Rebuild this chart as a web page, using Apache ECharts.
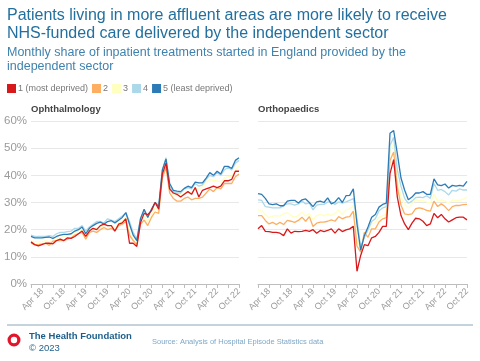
<!DOCTYPE html>
<html><head><meta charset="utf-8">
<script src="https://cdn.jsdelivr.net/npm/echarts@6/dist/echarts.min.js"></script>
<style>html,body{margin:0;padding:0;background:#fff}#c{width:480px;height:361px}</style>
</head><body><div id="c"></div>
<script>
const categories = ["Jan 18","Feb 18","Mar 18","Apr 18","May 18","Jun 18","Jul 18","Aug 18","Sep 18","Oct 18","Nov 18","Dec 18",
"Jan 19","Feb 19","Mar 19","Apr 19","May 19","Jun 19","Jul 19","Aug 19","Sep 19","Oct 19","Nov 19","Dec 19",
"Jan 20","Feb 20","Mar 20","Apr 20","May 20","Jun 20","Jul 20","Aug 20","Sep 20","Oct 20","Nov 20","Dec 20",
"Jan 21","Feb 21","Mar 21","Apr 21","May 21","Jun 21","Jul 21","Aug 21","Sep 21","Oct 21","Nov 21","Dec 21",
"Jan 22","Feb 22","Mar 22","Apr 22","May 22","Jun 22","Jul 22","Aug 22","Sep 22","Oct 22"];
const seriesNames = ["1 (most deprived)","2","3","4","5 (least deprived)"];
const seriesColors = ["#d7191c","#fdae61","#ffffbf","#abd9e9","#2c7bb6"];
const yTicks = [0,10,20,30,40,50,60];

// Ophthalmology
const oph1 = [15.5,14.5,14,14.5,15,15,14.8,16,16.5,16,17,16.8,17.5,18.5,19.5,17.5,19.5,20.5,20,21.5,22,21.5,21.5,19.5,22,22.5,24,15,15,13.8,22.5,26,25.5,27,30,27.5,40.5,44.5,35,33.5,33,32,33,34,33,35.5,32,34.5,35,35.5,36,35.5,36,38,38,38.5,41.5,41.5];
const oph2 = [15,14.5,14.5,14.8,15,14.2,15.8,16,16,16,16.5,17,18,18.5,19,16.5,19,19.5,19,20,20.8,20,20.5,19.5,21.5,22,23,18,16,14.5,22,23.5,21.5,24.5,26.5,26,39,43,33.5,31.5,30.5,30.5,31.5,32,31,31.5,31.5,32,33.5,35,34,35.5,35,37,37,37,39.5,40.5];
const oph3 = [16,15.5,15.5,15.5,16,15.5,16.5,17,17,17.5,18,18,19,19.5,20,17.5,20,20.5,20.5,21,21.5,21.5,21.5,20.5,22.5,23,24.5,19,16.5,15,23,25,23,25.5,28,27,40,44,34.5,33,32.5,33,33.5,34,33.5,35,35,36,37.5,38.5,38,38,37.5,39,39.5,39.5,42,43.5];
const oph4 = [18,17.5,17.5,17.5,17.5,17.8,17.5,18.5,19,19,19.3,19.5,20.5,20.5,21.5,19.5,21,22,23,23,22.5,24,23.5,23,24,25,26,23,19,16.5,24,27,25,27,30,29,42,46.5,36,34,33.5,33.5,35,35.5,35,37,36,36.5,38.5,40,39.5,41,40,42,43,42,44.5,45.5];
const oph5 = [17.5,17,17,17,17.2,17.3,16.8,17.5,18,18.3,18.3,18.5,19.5,20,21,18.5,20.5,21.5,22.3,22.8,22,23,23.3,22.5,23.5,24.5,26.3,22,18,16,24,27.5,24.5,27.5,30,28.5,42,46,37,34.5,34.2,34,35.2,36,35.5,37.5,37.2,37.2,39,41,40,41.5,40.5,43.3,43.3,42.5,45.5,46.5];

// Orthopaedics
const ort1 = [20.3,21.5,19.4,19.3,19,19,18.7,17.8,20.3,18.7,19.4,19.3,19.4,19.7,19.4,20,18.7,19.7,19.3,19.7,20.3,18.7,20.3,19.3,19.9,20.3,21.2,4.7,10.5,14.5,14.1,17,17.5,19,21.2,21.2,40.6,45.8,32,25.2,22.1,20,22.4,24.2,24,23.1,21.5,22.1,26,24.4,25.6,24,22.8,23.6,24.4,24.6,24.6,23.6];
const ort2 = [25.2,25.2,23.4,22.1,22.7,21.9,22.7,21.9,23.4,23.1,22.7,23.4,24.6,23.1,24.8,21.2,22.4,22.8,22.8,23.1,23.6,23.1,24.8,24,24.6,24.8,26.8,14,11.7,19,17.2,20.3,20.3,22.8,24,24.4,45.5,48.6,35.7,29,25.8,25.5,25.8,27.7,28,27.7,27.1,26.8,30.5,28.5,29.5,28.5,27,28.5,28.9,28.9,29.2,29.3];
const ort3 = [27.3,27,25.6,24.4,25,25.2,25,25.8,26.3,25.2,24.6,25.2,26.4,25,26,23.6,25.2,25.6,25.2,25.8,25.2,26,27.3,25.6,27.3,27.7,28.9,17,12.3,18.5,19.7,22.1,22.7,24.6,25.2,25.8,49,51.7,38.1,32,29.5,28,29.5,31,30.7,30.7,30.2,29.8,33,30.5,31,30.5,29.8,30.8,30.8,30.8,31.3,32];
const ort4 = [31,30.8,28.5,28.3,28,28,28,29,29.5,29.5,29,29.5,30.5,29.5,29.8,27.3,29,29.3,29.3,30.2,30.2,29.3,30.2,29.8,30.2,30.8,31.4,24,13.5,17,20,23,24,27,28,28.5,51,54,42,36,31.5,29.7,30.5,31.8,32,31.8,32.5,31.5,37,34.5,34.8,34,32.8,34.5,34.2,35,34.6,34.6];
const ort5 = [33.3,33,31.5,29.5,29.2,29.5,28.8,28.8,30.5,30.8,30.8,29.8,31,31.3,30,28.5,30.2,30.5,30,31.7,29.5,30.2,31.8,30,32.5,32.6,35,22,12.5,17.8,21,24.6,25.6,28.3,29.3,29.8,55.5,56.5,48,39,34.5,31,32,33.5,33.5,34,33,33,38.7,36.5,36.2,36.8,35.3,36.3,36,36.3,36,37.8];

const ophData = [oph1,oph2,oph3,oph4,oph5];
const ortData = [ort1,ort2,ort3,ort4,ort5];

const chart = echarts.init(document.getElementById('c'), null, {renderer:'canvas'});
const FONT = '"Liberation Sans", Arial, sans-serif';

function xAxis(gi){
  return {
    type:'category', gridIndex:gi, data:categories, boundaryGap:false,
    axisLine:{show:true, lineStyle:{color:'#bdbdbd', width:1}},
    axisTick:{show:true, length:4, lineStyle:{color:'#bdbdbd'}, interval:(i)=> i%3===0},
    axisLabel:{interval:(i)=> i%6===3, rotate:45, color:'#9a9a9a', fontSize:9, fontFamily:FONT, margin:6, hideOverlap:false},
    splitLine:{show:false}
  };
}
function yAxis(gi, showLabels){
  return {
    type:'value', gridIndex:gi, min:yTicks[0], max:yTicks[yTicks.length-1], interval:10,
    axisLine:{show:false}, axisTick:{show:false},
    axisLabel:{show:showLabels, formatter:'{value}%', color:'#9a9a9a', fontSize:11.5, fontFamily:FONT, margin:4},
    splitLine:{show:true, lineStyle:{color:'#e8e8e8', width:1}}
  };
}
const order = [2,1,3,4,0];
const series = [];
[0,1].forEach(gi=>{
  const src = gi===0 ? ophData : ortData;
  order.forEach(k=>{
    series.push({
      name:seriesNames[k], type:'line', xAxisIndex:gi, yAxisIndex:gi,
      data:src[k], symbol:'none', smooth:false,
      lineStyle:{color:seriesColors[k], width:1.3},
      itemStyle:{color:seriesColors[k]},
      emphasis:{disabled:true}, animation:false
    });
  });
});

chart.setOption({
  animation:false,
  backgroundColor:'#ffffff',
  grid:[
    {left:31, right:241, top:121, bottom:77},
    {left:258, right:13, top:121, bottom:77}
  ],
  xAxis:[xAxis(0), xAxis(1)],
  yAxis:[yAxis(0,true), yAxis(1,false)],
  legend:{
    data:seriesNames, left:7, top:84, padding:0, icon:'rect', itemWidth:9, itemHeight:9, itemGap:4,
    textStyle:{color:'#777', fontSize:9, fontFamily:FONT, padding:[0,0,0,-3]},
    selectedMode:false
  },
  series:series,
  graphic:[
    {type:'text', left:7, top:7, style:{text:'Patients living in more affluent areas are more likely to receive\nNHS-funded care delivered by the independent sector', fill:'#23709e', font:'16px '+FONT, lineHeight:18}},
    {type:'text', left:7, top:46, style:{text:'Monthly share of inpatient treatments started in England provided by the\nindependent sector', fill:'#3f82ad', font:'12.5px '+FONT, lineHeight:13.5}},
    {type:'text', left:31, top:104, style:{text:'Ophthalmology', fill:'#444', font:'bold 9.5px '+FONT}},
    {type:'text', left:258, top:104, style:{text:'Orthopaedics', fill:'#444', font:'bold 9.5px '+FONT}},
    {type:'line', shape:{x1:7, y1:325, x2:473, y2:325}, style:{stroke:'#8aa7b8', lineWidth:1}},
    {type:'ring', shape:{cx:14, cy:340, r:6.5, r0:3.2}, style:{fill:'#e2162b'}},
    {type:'text', left:29, top:331, style:{text:'The Health Foundation', fill:'#1d5f8a', font:'bold 9.5px '+FONT}},
    {type:'text', left:29, top:343, style:{text:'© 2023', fill:'#1d5f8a', font:'9.5px '+FONT}},
    {type:'text', left:152, top:338, style:{text:'Source: Analysis of Hospital Episode Statistics data', fill:'#7fa8c8', font:'7.5px '+FONT}}
  ]
});
</script>
</body></html>
